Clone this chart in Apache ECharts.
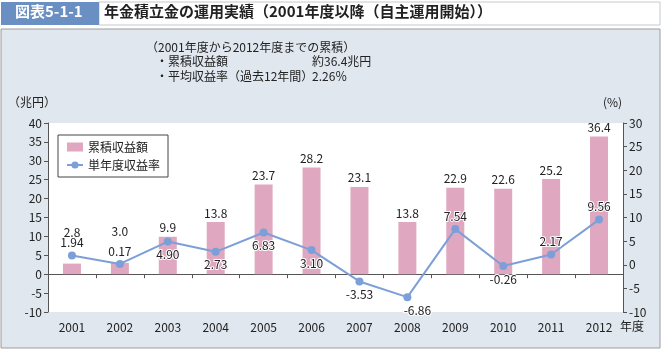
<!DOCTYPE html>
<html>
<head>
<meta charset="UTF-8">
<title>年金積立金の運用実績</title>
<script src="https://cdn.jsdelivr.net/npm/echarts@6/dist/echarts.min.js"></script>
<style>
  html, body { margin: 0; padding: 0; background: #fff; }
  #chart { width: 662px; height: 350px; }
</style>
</head>
<body>
<div id="chart"></div>
<script>
var years = ['2001', '2002', '2003', '2004', '2005', '2006', '2007', '2008', '2009', '2010', '2011', '2012'];
var cumulative = [2.8, 3.0, 9.9, 13.8, 23.7, 28.2, 23.1, 13.8, 22.9, 22.6, 25.2, 36.4];
var yearlyRate = [1.94, 0.17, 4.90, 2.73, 6.83, 3.10, -3.53, -6.86, 7.54, -0.26, 2.17, 9.56];
var leftTicks = [-10, 40, 5];
var rightTicks = [-10, 30, 5];

var font = '"Noto Sans CJK JP", "Noto Sans", sans-serif';
var barColor = '#e0a7c1';
var lineColor = '#7d9fd8';

// which rate labels sit under the point, and bar labels pushed up to clear them
var under = [2, 3, 4, 5, 6, 7, 9];
var raised = [0, 1];

var barData = cumulative.map(function (v, i) {
  if (raised.indexOf(i) >= 0) return { value: v, label: { distance: 25 } };
  return v;
});

var rateData = yearlyRate.map(function (v, i) {
  var pos = under.indexOf(i) >= 0 ? 'bottom' : 'top';
  var item = { value: v, label: { position: pos } };
  if (i === 7) item.label.offset = [10, 0];
  return item;
});

var chart = echarts.init(document.getElementById('chart'));
chart.setOption({
  animation: false,
  textStyle: { fontFamily: font },
  graphic: [
    { type: 'rect', shape: { x: 1, y: 29, width: 659, height: 319 },
      style: { fill: '#e1e7ef', stroke: '#9c9c9c', lineWidth: 1 }, z: -10 },
    { type: 'rect', shape: { x: 99, y: 2, width: 561, height: 23 },
      style: { fill: '#fff', stroke: '#c4c9d0', lineWidth: 1 }, z: -10 },
    { type: 'rect', shape: { x: 1, y: 2, width: 98, height: 23 },
      style: { fill: '#6a8fc2' }, z: -9 },
    { type: 'text', left: 15, top: 4,
      style: { text: '図表5-1-1', fill: '#fff', font: 'bold 15px ' + font } },
    { type: 'text', left: 104, top: 4,
      style: { text: '年金積立金の運用実績（2001年度以降（自主運用開始））', fill: '#222', font: 'bold 15px ' + font } },
    { type: 'text', left: 146, top: 41,
      style: { text: '（2001年度から2012年度までの累積）', fill: '#222', font: '12px ' + font } },
    { type: 'text', left: 156, top: 55,
      style: { text: '・累積収益額', fill: '#222', font: '12px ' + font } },
    { type: 'text', left: 312, top: 55,
      style: { text: '約36.4兆円', fill: '#222', font: '12px ' + font } },
    { type: 'text', left: 156, top: 70,
      style: { text: '・平均収益率（過去12年間）', fill: '#222', font: '12px ' + font } },
    { type: 'text', left: 312, top: 70,
      style: { text: '2.26％', fill: '#222', font: '12px ' + font } },
    { type: 'text', left: 8, top: 96,
      style: { text: '（兆円）', fill: '#222', font: '12px ' + font } },
    { type: 'text', left: 603, top: 96,
      style: { text: '(%)', fill: '#222', font: '12px ' + font } },
    { type: 'text', left: 620, top: 320,
      style: { text: '年度', fill: '#222', font: '12px ' + font } }
  ],
  grid: { left: 48, right: 39, top: 123, bottom: 38, show: true, backgroundColor: '#fff', borderWidth: 0 },
  legend: {
    left: 58, top: 135, orient: 'vertical',
    backgroundColor: '#fff', borderColor: '#444', borderWidth: 1,
    padding: [6, 8, 6, 8], itemGap: 6, itemWidth: 16, itemHeight: 9,
    textStyle: { fontSize: 12, color: '#222', fontFamily: font },
    data: [
      { name: '累積収益額', icon: 'rect', itemStyle: { color: barColor } },
      { name: '単年度収益率' }
    ]
  },
  xAxis: [
    {
      type: 'category', data: years,
      axisLine: { show: false, onZero: false },
      axisTick: { show: false },
      axisLabel: { fontSize: 12, color: '#222', margin: 9 }
    },
    {
      type: 'category', data: years, position: 'bottom',
      axisLine: { onZero: true, onZeroAxisIndex: 0, lineStyle: { color: '#555' } },
      axisTick: { show: true, length: 4, inside: false, lineStyle: { color: '#555' } },
      axisLabel: { show: false }
    }
  ],
  yAxis: [
    {
      type: 'value', min: leftTicks[0], max: leftTicks[1], interval: leftTicks[2],
      splitLine: { show: false },
      axisLine: { show: true, lineStyle: { color: '#555' } },
      axisTick: { show: true, length: 4, lineStyle: { color: '#555' } },
      axisLabel: { fontSize: 12, color: '#222', margin: 6 }
    },
    {
      type: 'value', min: rightTicks[0], max: rightTicks[1], interval: rightTicks[2],
      splitLine: { show: false },
      axisLine: { show: true, lineStyle: { color: '#555' } },
      axisTick: { show: true, length: 4, lineStyle: { color: '#555' } },
      axisLabel: { fontSize: 12, color: '#222', margin: 6 }
    }
  ],
  series: [
    {
      name: '累積収益額', type: 'bar', data: barData,
      xAxisIndex: 0, yAxisIndex: 0, barWidth: 18,
      itemStyle: { color: barColor },
      label: {
        show: true, position: 'top', fontSize: 12, color: '#222', distance: 3,
        formatter: function (p) { return p.value.toFixed(1); }
      }
    },
    {
      name: '単年度収益率', type: 'line', data: rateData,
      xAxisIndex: 0, yAxisIndex: 1,
      symbol: 'circle', symbolSize: 8,
      lineStyle: { color: lineColor, width: 2 },
      itemStyle: { color: lineColor },
      label: {
        show: true, fontSize: 12, color: '#222', distance: 3,
        textBorderColor: '#fff', textBorderWidth: 2,
        formatter: function (p) { return p.value.toFixed(2); }
      },
      z: 3
    }
  ]
});
</script>
</body>
</html>
